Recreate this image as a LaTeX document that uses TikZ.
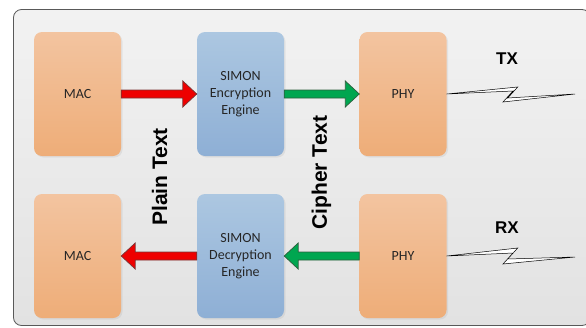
\documentclass[tikz,border=0pt]{standalone}
\usepackage{fontspec}
\setmainfont{Carlito}
\newfontfamily\arialfont{Liberation Sans}
\usepackage{tikz}
\usetikzlibrary{calc,shadows}

\definecolor{orangetop}{HTML}{F3C4A0}
\definecolor{orangebot}{HTML}{EEAD78}
\definecolor{bluetop}{HTML}{ACC7E1}
\definecolor{bluebot}{HTML}{8EAFD5}
\definecolor{arrowred}{HTML}{EE0000}
\definecolor{redline}{HTML}{7A3535}
\definecolor{arrowgreen}{HTML}{00A650}
\definecolor{greenline}{HTML}{2E5E3E}
\definecolor{frametop}{HTML}{F2F2F2}
\definecolor{framebot}{HTML}{E2E2E2}

\begin{document}
\begin{tikzpicture}[x=1pt,y=-1pt,
    block/.style={rectangle,rounded corners=8pt,
                  minimum width=87pt,minimum height=124pt,
                  align=center,text=black!85,
                  font=\fontsize{14}{17}\selectfont,
                  drop shadow={opacity=0.12,shadow xshift=1.5pt,shadow yshift=-1.5pt}},
    macbox/.style={block,top color=orangetop,bottom color=orangebot},
    simonbox/.style={block,top color=bluetop,bottom color=bluebot},
    blockarrow/.style={line width=0.7pt,
                  to path={let \p1=(\tikztostart), \p2=(\tikztotarget),
                           \n1={ifthenelse(\x2>\x1,1,-1)} in
                           (\x1,\y1+4pt) -- (\x2-\n1*14pt,\y1+4pt)
                           -- (\x2-\n1*14pt,\y1+13pt) -- (\x2,\y1)
                           -- (\x2-\n1*14pt,\y1-13pt) -- (\x2-\n1*14pt,\y1-4pt)
                           -- (\x1,\y1-4pt) -- cycle}},
    redarrow/.style={blockarrow,fill=arrowred,draw=redline},
    greenarrow/.style={blockarrow,fill=arrowgreen,draw=greenline},
    bolt/.style={fill=white,draw=black,line width=0.5pt,line join=miter},
    biglabel/.style={font=\arialfont\bfseries\fontsize{21}{25}\selectfont},
    radiolabel/.style={font=\arialfont\bfseries\fontsize{17}{20}\selectfont}]

\useasboundingbox (0,0) rectangle (586,327);

% background panel
\begin{scope}
  \clip (0,0) rectangle (586,327);
  \draw[rounded corners=8pt,draw=black!65,line width=0.8pt,
        top color=frametop,bottom color=framebot] (13.5,9.5) rectangle (590,325.5);
\end{scope}

% transmit path
\node[macbox]   (mact) at (77.5,94)  {MAC};
\node[simonbox] (enct) at (240.5,94) {SIMON\\Encryption\\Engine};
\node[macbox]   (phyt) at (403,94)   {PHY};

% receive path
\node[macbox]   (macb) at (77.5,256)  {MAC};
\node[simonbox] (decb) at (240.5,256) {SIMON\\Decryption\\Engine};
\node[macbox]   (phyb) at (403,256)   {PHY};

\draw[redarrow]   (mact.east) to (enct.west);
\draw[greenarrow] (enct.east) to (phyt.west);
\draw[greenarrow] (phyb.west) to (decb.east);
\draw[redarrow]   (decb.west) to (macb.east);

\node[biglabel,rotate=90] (plain)  at (159.5,177) {Plain Text};
\node[biglabel,rotate=90] (cipher) at (321.5,172.5) {Cipher Text};

% radio links
\coordinate (txend) at (575,94);
\coordinate (rxend) at (575,257);
\draw[bolt] (phyt.east) -- +(71,-7) -- +(61,4) -- (txend) -- +(-72,8) -- +(-62,-3) -- cycle;
\draw[bolt] (phyb.east) -- +(71,-8) -- +(61,3) -- (rxend) -- +(-72,7) -- +(-62,-4) -- cycle;

\node[radiolabel] (tx) at (507,59)  {TX};
\node[radiolabel] (rx) at (507,228) {RX};

\end{tikzpicture}
\end{document}
